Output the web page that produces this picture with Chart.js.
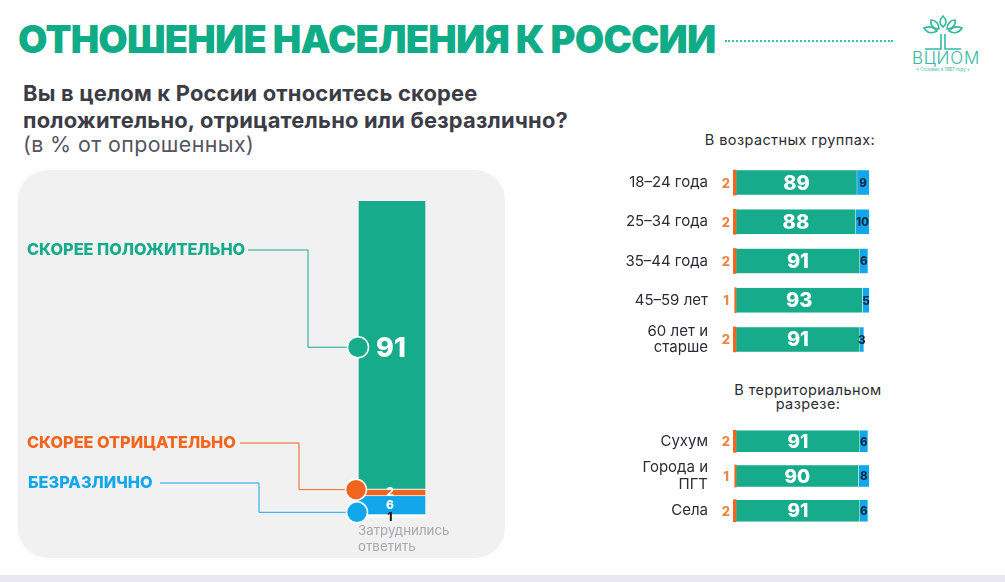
<!DOCTYPE html>
<html lang="ru">
<head>
<meta charset="utf-8">
<title>Отношение населения к России</title>
<script src="https://cdn.jsdelivr.net/npm/chart.js@4"></script>
<style>
    html, body { margin: 0; padding: 0; background: #fff; }
    body { width: 1005px; height: 582px; position: relative; overflow: hidden; font-family: Inter, "Noto Sans", sans-serif; }
    .abs { position: absolute; white-space: nowrap; }
    canvas { position: absolute; }
    #title { left: 18px; top: 16px; font-size: 38px; line-height: 46px; font-weight: 900; letter-spacing: -0.8px; color: #10ac88; }
    #dots { left: 725px; top: 40px; width: 168px; border-top: 2px dotted #3cbfa8; }
    #question { left: 23px; top: 80px; font-size: 21.9px; line-height: 27px; font-weight: 700; letter-spacing: 0.2px; color: #3c3c46; }
    #unit { left: 23px; top: 131px; font-size: 21.4px; line-height: 27px; letter-spacing: 0.4px; color: #55555f; }
    #panel { left: 18px; top: 170px; width: 487px; height: 388px; border-radius: 30px; background: #f1f1f2; }
    .head { font-size: 14.5px; line-height: 14px; letter-spacing: 0.4px; color: #2c2c34; text-align: center; }
    #ageHead { left: 690px; top: 133px; width: 200px; }
    #terrHead { left: 708px; top: 383px; width: 200px; }
    #strip { left: 0; top: 575px; width: 1005px; height: 7px; background: #e9e8f1; }
    #logoName { left: 908px; top: 50px; width: 76px; text-align: center; font-size: 17px; line-height: 17px; letter-spacing: 0.8px; font-weight: 300; color: #35b9a2; }
    #logoNote { left: 895px; top: 67px; width: 96px; text-align: center; font-size: 4.5px; line-height: 6px; color: #35b9a2; }
</style>
</head>
<body>
<div class="abs" id="title">ОТНОШЕНИЕ НАСЕЛЕНИЯ К РОССИИ</div>
<div class="abs" id="dots"></div>
<svg class="abs" style="left:918px;top:14px" width="50" height="40" viewBox="0 0 50 40" fill="none" stroke="#35b9a2" stroke-width="1.6">
    <path d="M25 2c-4 4-4 8 0 11c4-3 4-7 0-11z"/>
    <path d="M13 6c-1 5 2 9 8 9c0-5-3-9-8-9z"/>
    <path d="M37 6c1 5-2 9-8 9c0-5 3-9 8-9z"/>
    <path d="M6 14c3 5 8 6 13 3c-3-4-8-5-13-3z"/>
    <path d="M44 14c-3 5-8 6-13 3c3-4 8-5 13-3z"/>
    <path d="M23 20v15h-16M27 20v15h16"/>
</svg>
<div class="abs" id="logoName">ВЦИОМ</div>
<div class="abs" id="logoNote">• Основан в 1987 году •</div>
<div class="abs" id="question">Вы в целом к России относитесь скорее<br>положительно, отрицательно или безразлично?</div>
<div class="abs" id="unit">(в % от опрошенных)</div>
<div class="abs" id="panel"></div>
<div class="abs head" id="ageHead">В возрастных группах:</div>
<div class="abs head" id="terrHead">В территориальном<br>разрезе:</div>
<div class="abs" id="strip"></div>

<canvas id="totalChart" width="510" height="388" style="left:0;top:170px"></canvas>
<canvas id="ageChart" width="280" height="196" style="left:610px;top:163px"></canvas>
<canvas id="terrChart" width="280" height="104" style="left:610px;top:424px"></canvas>

<script>
const totalNames = ['СКОРЕЕ ПОЛОЖИТЕЛЬНО', 'СКОРЕЕ ОТРИЦАТЕЛЬНО', 'БЕЗРАЗЛИЧНО', 'Затруднились ответить'];
const totalValues = [91, 2, 6, 1];

const ageLabels = ['18–24 года', '25–34 года', '35–44 года', '45–59 лет', ['60 лет и', 'старше']];
const agePositive = [89, 88, 91, 93, 91];
const ageNegative = [2, 2, 2, 1, 2];
const ageIndifferent = [9, 10, 6, 5, 3];

const terrLabels = ['Сухум', ['Города и', 'ПГТ'], 'Села'];
const terrPositive = [91, 90, 91];
const terrNegative = [2, 1, 2];
const terrIndifferent = [6, 8, 6];

const GREEN = '#16ab8a';
const ORANGE = '#f2651f';
const BLUE = '#12a7ea';
const FONT = 'Inter, "Noto Sans", sans-serif';

Chart.defaults.font.family = FONT;
Chart.defaults.animation = false;

// подписи и выноски слева
const callouts = [
    { seg: 0, textX: 27, textY: 250, endX: 248, elbowX: 308, dotX: 358, dotShift: 2, color: GREEN },
    { seg: 1, textX: 27, textY: 443, endX: 240, elbowX: 299, dotX: 356, dotShift: -3, color: ORANGE },
    { seg: 2, textX: 28, textY: 483, endX: 160, elbowX: 259, dotX: 357, dotShift: 7, color: BLUE }
];
const PANEL_TOP = 170;

const totalPlugin = {
    id: 'totalLabels',
    afterDatasetsDraw(chart) {
        const ctx = chart.ctx;
        ctx.save();
        callouts.forEach(c => {
            const bar = chart.getDatasetMeta(c.seg).data[0];
            const dotY = (bar.y + bar.base) / 2 + c.dotShift;
            const textY = c.textY - PANEL_TOP;

            ctx.strokeStyle = c.color;
            ctx.lineWidth = 1;
            ctx.beginPath();
            ctx.moveTo(c.endX, textY);
            ctx.lineTo(c.elbowX, textY);
            ctx.lineTo(c.elbowX, dotY);
            ctx.lineTo(c.dotX, dotY);
            ctx.stroke();

            ctx.beginPath();
            ctx.arc(c.dotX, dotY, 10.5, 0, Math.PI * 2);
            ctx.fillStyle = c.color;
            ctx.fill();
            ctx.strokeStyle = '#fff';
            ctx.lineWidth = 1.5;
            ctx.stroke();

            ctx.fillStyle = c.color;
            ctx.font = '800 16.3px ' + FONT;
            ctx.textAlign = 'left';
            ctx.textBaseline = 'middle';
            ctx.fillText(totalNames[c.seg], c.textX, textY);
        });

        // значения на столбце
        ctx.textAlign = 'center';
        const center = i => {
            const bar = chart.getDatasetMeta(i).data[0];
            return [bar.x, (bar.y + bar.base) / 2];
        };
        let [x, y] = center(0);
        ctx.fillStyle = '#fff';
        ctx.font = '800 27px ' + FONT;
        ctx.fillText(totalValues[0], x - 1, y + 4);
        ctx.font = '800 12px ' + FONT;
        [x, y] = center(1);
        ctx.fillText(totalValues[1], x - 2, y);
        [x, y] = center(2);
        ctx.fillText(totalValues[2], x - 2, y);
        [x, y] = center(3);
        ctx.fillStyle = '#222';
        ctx.fillText(totalValues[3], x - 2, y + 1);

        // подпись "Затруднились ответить"
        ctx.fillStyle = '#a9a9ad';
        ctx.font = '13.3px ' + FONT;
        ctx.textAlign = 'left';
        const parts = totalNames[3].split(' ');
        ctx.fillText(parts[0], 358, 531 - PANEL_TOP);
        ctx.fillText(parts[1], 358, 547 - PANEL_TOP);
        ctx.restore();
    }
};

new Chart(document.getElementById('totalChart').getContext('2d'), {
    type: 'bar',
    data: {
        labels: ['Всего'],
        datasets: totalValues.map((v, i) => ({
            label: totalNames[i],
            data: [v],
            backgroundColor: [GREEN, ORANGE, BLUE, '#ffffff'][i],
            borderColor: '#f4f6f6',
            borderWidth: 1,
            categoryPercentage: 1,
            barPercentage: 1
        }))
    },
    options: {
        responsive: false,
        layout: { padding: { left: 358, right: 84, top: 31, bottom: 40 } },
        plugins: { legend: { display: false }, tooltip: { enabled: false } },
        scales: {
            x: { stacked: true, display: false },
            y: { stacked: true, display: false, reverse: true, min: 0, max: 100 }
        }
    },
    plugins: [totalPlugin]
});

// значения на горизонтальных полосах
const rowLabels = {
    id: 'rowLabels',
    afterDatasetsDraw(chart, args, opts) {
        const ctx = chart.ctx;
        ctx.save();
        ctx.textAlign = 'center';
        ctx.textBaseline = 'middle';
        chart.getDatasetMeta(0).data.forEach((bar, i) => {
            ctx.fillStyle = '#f08443';
            ctx.font = '800 13px ' + FONT;
            ctx.fillText(opts.negative[i], chart.chartArea.left - 6, bar.y + 1);

            const green = chart.getDatasetMeta(1).data[i];
            ctx.fillStyle = '#fff';
            ctx.font = '800 ' + opts.size + 'px ' + FONT;
            ctx.fillText(opts.positive[i], (green.x + green.base) / 2, bar.y + 1);

            const blue = chart.getDatasetMeta(2).data[i];
            ctx.fillStyle = '#0f2a45';
            ctx.font = '800 11.5px ' + FONT;
            ctx.fillText(opts.indifferent[i], (blue.x + blue.base) / 2, bar.y + 1);
        });
        ctx.restore();
    }
};

function initRowChart(id, labels, positive, negative, indifferent, thickness, size) {
    const common = { stack: 'a', barThickness: thickness, borderColor: '#e9f8f5', borderWidth: 0.6 };
    return new Chart(document.getElementById(id).getContext('2d'), {
        type: 'bar',
        data: {
            labels: labels,
            datasets: [
                // отрицательные откладываются влево от нуля, чтобы зелёные полосы начинались ровно
                { ...common, label: 'Скорее отрицательно', data: negative.map(v => -v), backgroundColor: ORANGE, borderWidth: 0 },
                { ...common, label: 'Скорее положительно', data: positive, backgroundColor: GREEN },
                { ...common, label: 'Безразлично', data: indifferent, backgroundColor: BLUE }
            ]
        },
        options: {
            responsive: false,
            indexAxis: 'y',
            layout: { padding: { left: 0, right: 18, top: 0, bottom: 0 } },
            plugins: {
                legend: { display: false },
                tooltip: { enabled: false },
                rowLabels: { positive, negative, indifferent, size }
            },
            scales: {
                x: { display: false, stacked: true, min: -3, max: 100 },
                y: {
                    stacked: true,
                    afterFit(axis) {
                        axis.width = 122;
                        axis.paddingTop = 0;
                        axis.paddingBottom = 0;
                    },
                    grid: { drawOnChartArea: false, drawTicks: true, tickLength: 24, tickColor: 'transparent' },
                    border: { display: false },
                    ticks: { color: '#2c2c34', font: { size: 15, lineHeight: 1.1 }, padding: 0, autoSkip: false }
                }
            }
        },
        plugins: [rowLabels]
    });
}

initRowChart('ageChart', ageLabels, agePositive, ageNegative, ageIndifferent, 25, 20);
initRowChart('terrChart', terrLabels, terrPositive, terrNegative, terrIndifferent, 22, 19);
</script>
</body>
</html>
